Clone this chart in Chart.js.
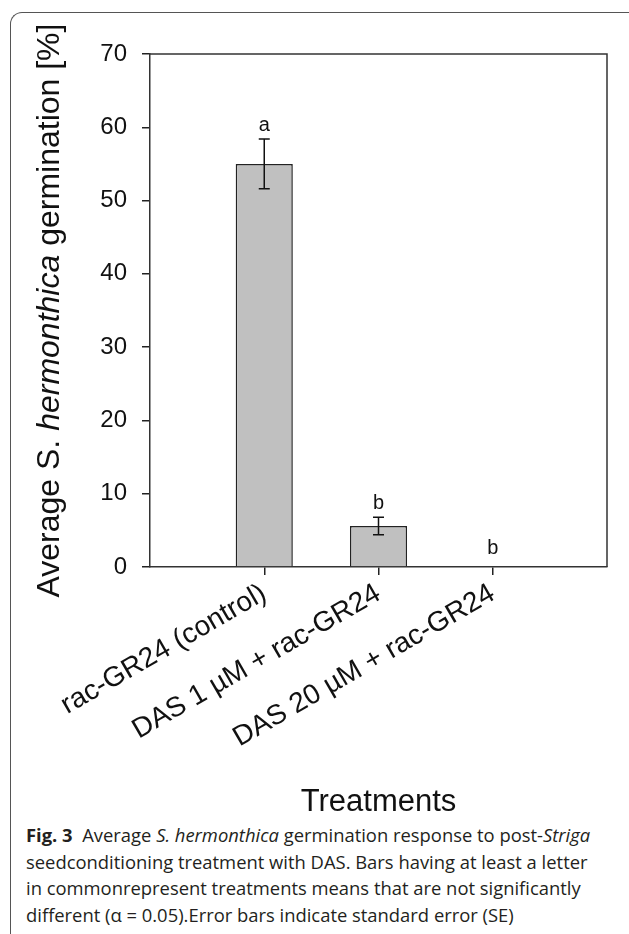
<!DOCTYPE html>
<html>
<head>
<meta charset="utf-8">
<script src="https://cdn.jsdelivr.net/npm/chart.js@4/dist/chart.umd.min.js"></script>
<style>
  html, body { margin: 0; padding: 0; background: #fff; }
  body { width: 629px; height: 934px; position: relative; overflow: hidden; }
  #frame {
    position: absolute; left: 10px; top: 12px; width: 640px; height: 960px;
    border-left: 1.5px solid #555; border-top: 1.5px solid #555;
    border-top-left-radius: 12px; box-sizing: border-box;
  }
  #chart { position: absolute; left: 0; top: 0; }
  .cap {
    position: absolute; left: 26px; top: 822px; width: 600px;
    font-family: "Open Sans", "Noto Sans", sans-serif; font-size: 18.4px;
    line-height: 26.7px; color: #231f20; white-space: nowrap;
  }
  .cap b { font-weight: 700; }
</style>
</head>
<body>
<div id="frame"></div>
<canvas id="chart" width="629" height="821"></canvas>
<div class="cap"><b>Fig. 3</b>&nbsp; Average <i>S. hermonthica</i> germination response to post-<i>Striga</i><br>seedconditioning treatment with DAS. Bars having at least a letter<br>in commonrepresent treatments means that are not significantly<br>different (α = 0.05).Error bars indicate standard error (SE)</div>
<script>
const categories = ["rac-GR24 (control)", "DAS 1 µM + rac-GR24", "DAS 20 µM + rac-GR24"];
const germination = [55, 5.6, 0];
const stdError = [3.4, 1.2, 0];
const letters = ["a", "b", "b"];
const letterAt = [59.5, 7.9, 1.8];

// empty slot on each side, like the original plot
const labels = ["", ...categories, ""];
const values = [null, ...germination, null];

const font = "Liberation Sans, Arial, sans-serif";

const extras = {
  id: "extras",
  afterDatasetsDraw(chart) {
    const { ctx, chartArea, scales } = chart;
    const x = scales.x, y = scales.y;
    ctx.save();
    // top and right frame of the plot
    ctx.strokeStyle = "#333";
    ctx.lineWidth = 1.5;
    ctx.beginPath();
    ctx.moveTo(chartArea.left, chartArea.top);
    ctx.lineTo(chartArea.right, chartArea.top);
    ctx.lineTo(chartArea.right, chartArea.bottom);
    ctx.stroke();

    // error bars and letters
    ctx.strokeStyle = "#111";
    ctx.lineWidth = 1.5;
    ctx.fillStyle = "#111";
    ctx.font = "20px " + font;
    ctx.textAlign = "center";
    ctx.textBaseline = "alphabetic";
    germination.forEach((v, i) => {
      const px = x.getPixelForValue(i + 1);
      const e = stdError[i];
      if (e > 0) {
        const top = y.getPixelForValue(v + e);
        const bot = y.getPixelForValue(v - e);
        ctx.beginPath();
        ctx.moveTo(px, top); ctx.lineTo(px, bot);
        ctx.moveTo(px - 5.5, top); ctx.lineTo(px + 5.5, top);
        ctx.moveTo(px - 5.5, bot); ctx.lineTo(px + 5.5, bot);
        ctx.stroke();
      }
      ctx.fillText(letters[i], px, y.getPixelForValue(letterAt[i]));
    });

    // y axis title with italic species name
    const parts = [["Average S. ", ""], ["hermonthica", "italic "], [" germination [%]", ""]];
    const size = 32;
    let total = 0;
    parts.forEach(p => { ctx.font = p[1] + size + "px " + font; total += ctx.measureText(p[0]).width; });
    ctx.translate(50, (chartArea.top + chartArea.bottom) / 2);
    ctx.rotate(-Math.PI / 2);
    ctx.textAlign = "left";
    ctx.textBaseline = "middle";
    let cx = -total / 2;
    parts.forEach(p => {
      ctx.font = p[1] + size + "px " + font;
      ctx.fillText(p[0], cx, 0);
      cx += ctx.measureText(p[0]).width;
    });
    ctx.restore();
  }
};

new Chart(document.getElementById("chart").getContext("2d"), {
  type: "bar",
  data: {
    labels: labels,
    datasets: [{
      data: values,
      backgroundColor: "#c0c0c0",
      borderColor: "#222",
      borderWidth: 1.5,
      barPercentage: 1,
      categoryPercentage: 0.5
    }]
  },
  options: {
    responsive: false,
    animation: false,
    layout: { padding: { top: 54, right: 22, bottom: 0, left: 0 } },
    plugins: { legend: { display: false }, tooltip: { enabled: false } },
    scales: {
      x: {
        offset: false,
        grid: {
          offset: false,
          drawOnChartArea: false,
          tickLength: 8,
          lineWidth: 1.5,
          color: c => (c.index === 0 || c.index === labels.length - 1) ? "rgba(0,0,0,0)" : "#222"
        },
        border: { color: "#333", width: 1.5 },
        ticks: {
          autoSkip: false, maxRotation: 30, minRotation: 30, padding: 2,
          color: "#111", font: { family: font, size: 28 }
        },
        title: {
          display: true, text: "Treatments", color: "#111",
          font: { family: font, size: 31 }, padding: { top: 0, bottom: 0 }
        },
        afterFit(scale) { scale.height = 254; }
      },
      y: {
        min: 0, max: 70,
        grid: { drawOnChartArea: false, tickLength: 8, lineWidth: 1.5, color: "#222" },
        border: { color: "#333", width: 1.5 },
        ticks: { stepSize: 10, padding: 15, color: "#111", font: { family: font, size: 24 } },
        afterFit(scale) { scale.width = 150; }
      }
    }
  },
  plugins: [extras]
});
</script>
</body>
</html>
